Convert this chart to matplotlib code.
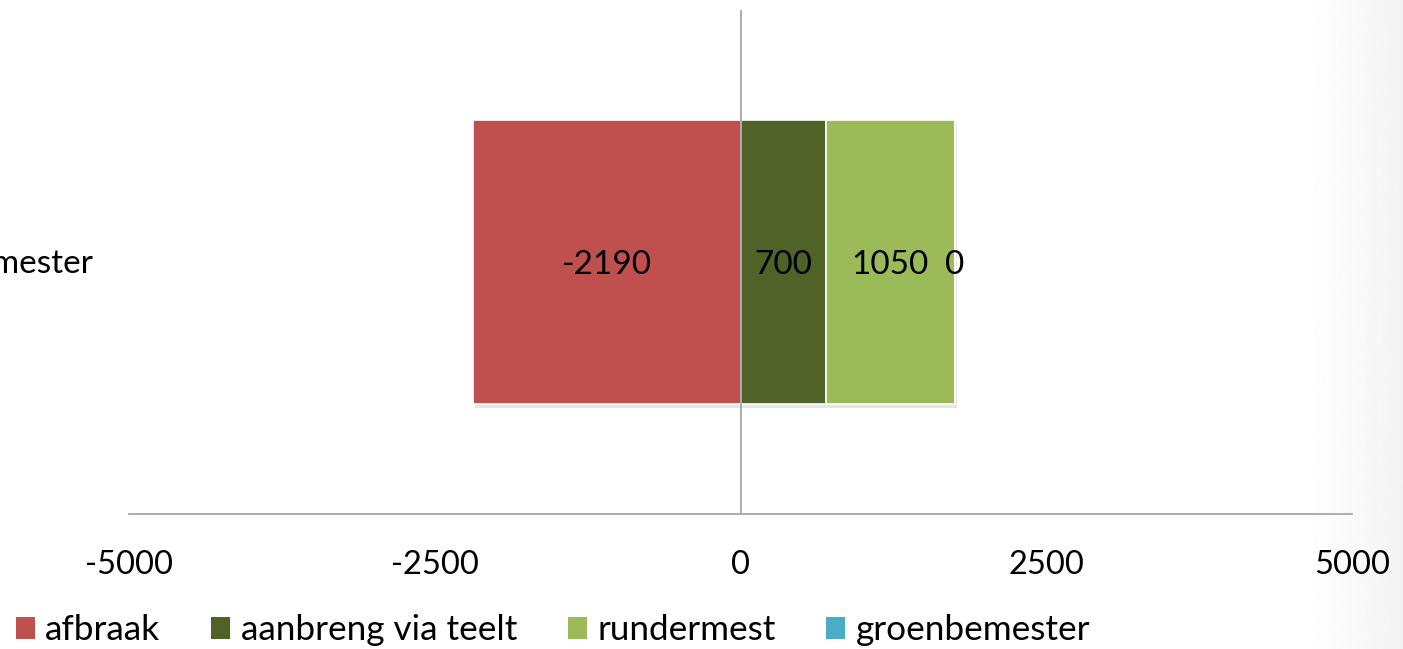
import numpy as np
import matplotlib
matplotlib.use("Agg")
import matplotlib.pyplot as plt
from matplotlib.patches import Patch
import matplotlib.patheffects as pe

plt.rcParams["font.family"] = ["Lato", "DejaVu Sans"]

# balance for one category, stacked left/right of zero
category = ["groenbemester"]
series = ["afbraak", "aanbreng via teelt", "rundermest", "groenbemester"]
values = [-2190, 700, 1050, 0]
colors = ["#C0504D", "#4F6228", "#9BBB59", "#4BACC6"]
xticks = [-5000, -2500, 0, 2500, 5000]

fig = plt.figure(figsize=(14.03, 6.49), dpi=100)

# faint grey shading at the right edge of the slide
bg = fig.add_axes([0.93, 0, 0.07, 1], zorder=-10)
grad = np.linspace(1.0, 0.955, 64)[None, :]
bg.imshow(grad, cmap="gray", vmin=0, vmax=1, aspect="auto",
          extent=[0, 1, 0, 1])
bg.axis("off")

ax = fig.add_axes([0.0919, 0.208, 0.8718, 0.7766])
ax.patch.set_alpha(0)

shadow = [pe.SimplePatchShadow(offset=(2, -2.5), shadow_rgbFace="#000000",
                               alpha=0.1), pe.Normal()]

pos_left = 0.0
for name, val, col in zip(series, values, colors):
    if val < 0:
        left = val
    else:
        left = pos_left
        pos_left += val
    bars = ax.barh(0, abs(val), left=left, height=0.565,
                   color=col, edgecolor="white", linewidth=1.2, zorder=2)
    for b in bars:
        b.set_path_effects(shadow)
    ax.text(left + abs(val) / 2, -0.005, f"{val}", ha="center", va="center",
            fontsize=24, color="black", zorder=4)

ax.set_xlim(-5000, 5000)
ax.set_ylim(-0.5, 0.5)
ax.set_xticks(xticks)
ax.set_xticklabels([str(t) for t in xticks])
ax.tick_params(axis="x", length=0, labelsize=23.5, pad=26)
ax.set_yticks([])
for s in ["top", "right", "left"]:
    ax.spines[s].set_visible(False)
ax.spines["bottom"].set_color("#A6A6A6")
ax.spines["bottom"].set_linewidth(1.3)
ax.axvline(0, color="#A6A6A6", lw=1.3, zorder=3)

fig.text(93 / 1403, 1 - 264 / 649, category[0], ha="right", va="center",
         fontsize=24)

handles = [Patch(facecolor=c, edgecolor="none") for c in colors]
fig.legend(handles, series, loc="center left",
           bbox_to_anchor=(-0.001, 1 - 630 / 649), ncol=4, frameon=False,
           fontsize=25.3, handlelength=0.53, handleheight=0.58,
           handletextpad=0.3, columnspacing=1.45, borderpad=0)

fig.savefig("out.png", dpi=100)
